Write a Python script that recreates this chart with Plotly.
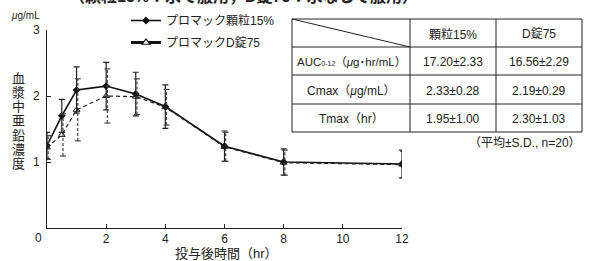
import plotly.graph_objects as go

# ---- data ----
time_hr = [0, 0.5, 1, 2, 3, 4, 6, 8, 12]
gran_mean = [1.25, 1.70, 2.09, 2.15, 2.03, 1.84, 1.24, 1.00, 0.97]
gran_sd = [0.20, 0.25, 0.35, 0.36, 0.33, 0.33, 0.23, 0.20, 0.21]
tab_mean = [1.22, 1.41, 1.79, 2.00, 1.99, 1.83, 1.23, 0.99, 0.96]
tab_sd = [0.18, 0.32, 0.47, 0.41, 0.27, 0.27, 0.22, 0.19, 0.20]

series_names = ["プロマック顆粒15%", "プロマックD錠75"]
table_cols = ["顆粒15%", "D錠75"]
table_rows = ["AUC<span style='font-size:7px'>0-12</span>（<i>μ</i>g･hr/mL）", "Cmax（<i>μ</i>g/mL）", "Tmax（hr）"]
table_gran = ["17.20±2.33", "2.33±0.28", "1.95±1.00"]
table_tab = ["16.56±2.29", "2.19±0.29", "2.30±1.03"]

x_ticks = [2, 4, 6, 8, 10, 12]
y_ticks = [1, 2, 3]

FONT = "Liberation Sans, Noto Sans CJK JP, sans-serif"
TXT = "#222"

W, H = 589, 261
L, R, T, B = 47, 402, 30, 228


def xp(px):
    return (px - L) / (R - L)


def yp(py):
    return (B - py) / (B - T)


fig = go.Figure()

# granule series (solid) with error bars
fig.add_trace(go.Scatter(
    x=time_hr, y=gran_mean, mode="lines+markers", name=series_names[0],
    line=dict(color="#111", width=1.6),
    marker=dict(symbol="diamond", size=6, color="#111"),
    error_y=dict(type="data", array=gran_sd, visible=True, color="#222", thickness=1.2, width=3),
    showlegend=False,
))

# tablet series error bars (dashed) built from data
ex, ey, cx, cy = [], [], [], []
cap = 0.1
for t, m, s in zip(time_hr, tab_mean, tab_sd):
    xo = t + 0.04
    ex += [xo, xo, None]
    ey += [m - s, m + s, None]
    for v in (m - s, m + s):
        cx += [xo - cap, xo + cap, None]
        cy += [v, v, None]
fig.add_trace(go.Scatter(x=ex, y=ey, mode="lines", line=dict(color="#444", width=1.2, dash="3px,2px"),
                         showlegend=False, hoverinfo="skip"))
fig.add_trace(go.Scatter(x=cx, y=cy, mode="lines", line=dict(color="#444", width=1.2),
                         showlegend=False, hoverinfo="skip"))

fig.add_trace(go.Scatter(
    x=time_hr, y=tab_mean, mode="lines+markers", name=series_names[1],
    line=dict(color="#222", width=1.2, dash="4px,3px"),
    marker=dict(symbol="triangle-up-open", size=6, color="#222"),
    showlegend=False,
))

# legend entries
fig.add_trace(go.Scatter(x=[None], y=[None], mode="lines+markers", name=series_names[0],
                         legendgroup="a",
                         line=dict(color="#111", width=1.6),
                         marker=dict(symbol="diamond", size=6, color="#111")))
fig.add_trace(go.Scatter(x=[None], y=[None], mode="lines+markers", name=series_names[1],
                         legendgroup="b",
                         line=dict(color="#111", width=3),
                         marker=dict(symbol="triangle-up", size=7, color="white",
                                     line=dict(width=1.2, color="#111"))))

ann = []

# title (cut off at top)
ann.append(dict(text="<b>（顆粒15%：水で服用，D錠75：水なしで服用）</b>", x=xp(243), y=yp(-4),
                xref="paper", yref="paper", showarrow=False, xanchor="center", yanchor="middle",
                font=dict(size=16, color=TXT, family=FONT)))
# unit
ann.append(dict(text="<i>μ</i>g/mL", x=xp(9), y=yp(16), xref="paper", yref="paper", showarrow=False,
                xanchor="left", yanchor="middle", font=dict(size=10, color=TXT, family=FONT)))
# origin label
ann.append(dict(text="0", x=xp(38), y=yp(238), xref="paper", yref="paper", showarrow=False,
                xanchor="center", yanchor="middle", font=dict(size=12, color=TXT, family=FONT)))
# vertical y title
ytitle = "血漿中亜鉛濃度"
for i, ch in enumerate(ytitle):
    ann.append(dict(text=ch, x=xp(18), y=yp(78 + i * 14.3), xref="paper", yref="paper", showarrow=False,
                    xanchor="center", yanchor="middle", font=dict(size=13, color=TXT, family=FONT)))
# x title
ann.append(dict(text="投与後時間（hr）", x=xp(226), y=yp(253), xref="paper", yref="paper", showarrow=False,
                xanchor="center", yanchor="middle", font=dict(size=13, color=TXT, family=FONT)))

# table
tx = [292, 410, 496, 582]
ty = [19, 47, 75, 104, 132]
shapes = []
for yv in ty:
    shapes.append(dict(type="line", xref="paper", yref="paper", x0=xp(tx[0]), x1=xp(tx[-1]), y0=yp(yv), y1=yp(yv),
                       line=dict(color="#222", width=1)))
for xv in tx:
    shapes.append(dict(type="line", xref="paper", yref="paper", x0=xp(xv), x1=xp(xv), y0=yp(ty[0]), y1=yp(ty[-1]),
                       line=dict(color="#222", width=1)))
shapes.append(dict(type="line", xref="paper", yref="paper", x0=xp(tx[0]), x1=xp(tx[1]), y0=yp(ty[0]), y1=yp(ty[1]),
                   line=dict(color="#222", width=1)))


def cell(text, ci, ri, size=12):
    return dict(text=text, x=xp((tx[ci] + tx[ci + 1]) / 2), y=yp((ty[ri] + ty[ri + 1]) / 2 + 1),
                xref="paper", yref="paper", showarrow=False, xanchor="center", yanchor="middle",
                font=dict(size=size, color=TXT, family=FONT))


for ci, h in enumerate(table_cols):
    ann.append(cell(h, ci + 1, 0))
for ri, (lab, g, t) in enumerate(zip(table_rows, table_gran, table_tab)):
    ann.append(cell(lab, 0, ri + 1, 11.5 if ri == 0 else 12))
    ann.append(cell(g, 1, ri + 1))
    ann.append(cell(t, 2, ri + 1))
ann.append(dict(text="（平均±S.D., n=20）", x=xp(583), y=yp(143), xref="paper", yref="paper", showarrow=False,
                xanchor="right", yanchor="middle", font=dict(size=12, color=TXT, family=FONT)))

fig.update_layout(
    width=W, height=H, autosize=False,
    margin=dict(l=L, r=W - R, t=T, b=H - B, pad=0, autoexpand=False),
    paper_bgcolor="white", plot_bgcolor="white",
    font=dict(family=FONT, color=TXT, size=12),
    annotations=ann, shapes=shapes,
    legend=dict(x=xp(126), y=yp(6), xanchor="left", yanchor="top", bgcolor="rgba(0,0,0,0)",
                font=dict(size=12, family=FONT, color=TXT), tracegroupgap=3),
    xaxis=dict(range=[0, 12], tickvals=x_ticks, ticks="inside", ticklen=4, tickcolor="#222",
               showline=True, linecolor="#222", linewidth=1, showgrid=False, zeroline=False,
               tickfont=dict(size=12, color=TXT)),
    yaxis=dict(range=[0, 3], tickvals=y_ticks, ticks="inside", ticklen=4, tickcolor="#222",
               showline=True, linecolor="#222", linewidth=1, showgrid=False, zeroline=False,
               tickfont=dict(size=12, color=TXT), ticklabelstandoff=4),
)

fig.write_html("out.html", config={"displayModeBar": False},
               post_script="document.body.style.margin='0';document.body.style.overflow='hidden';")
